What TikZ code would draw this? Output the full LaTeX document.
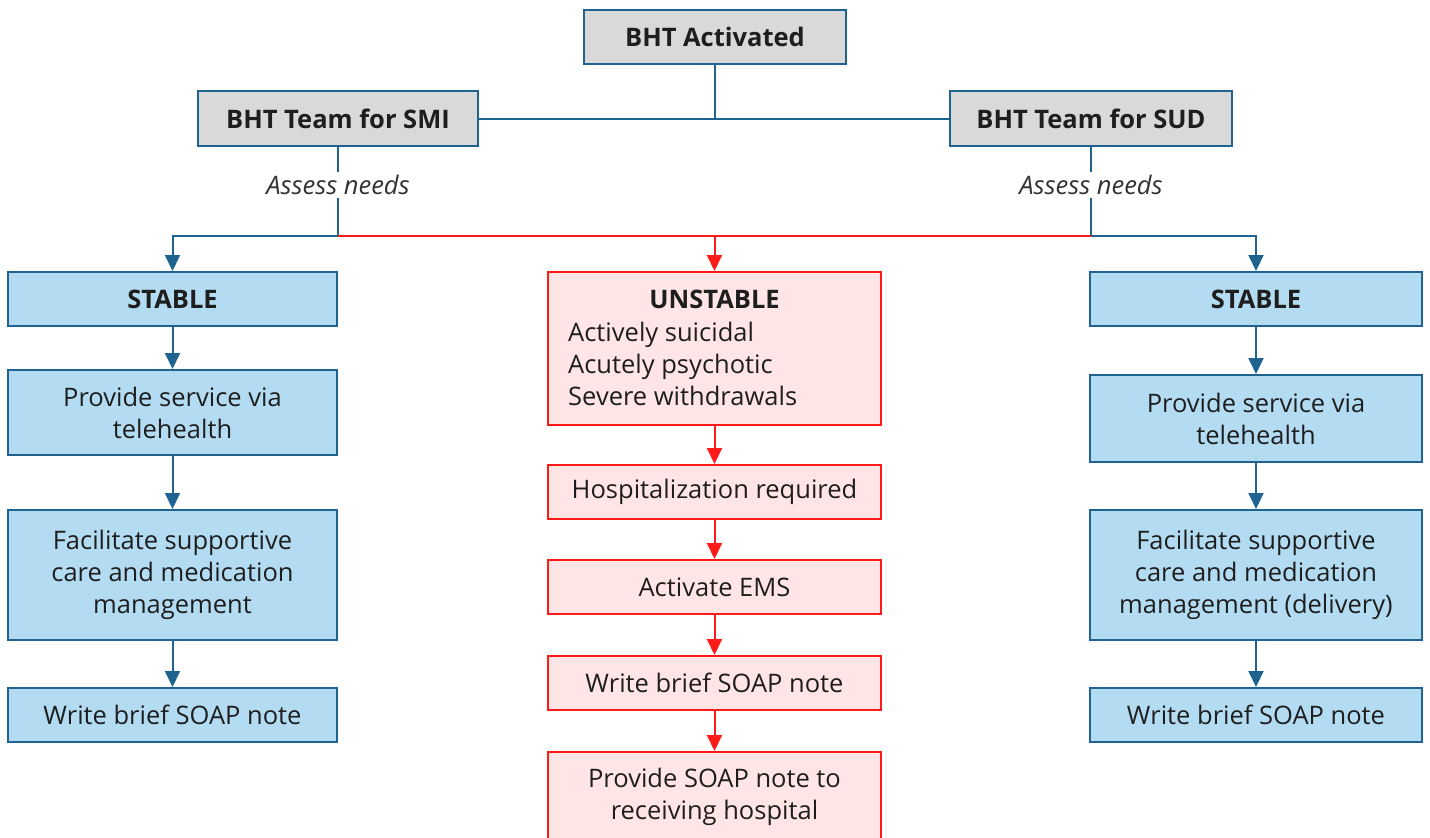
\documentclass[tikz,border=0pt]{standalone}
\usepackage{fontspec}
\setmainfont{Open Sans}
\usepackage{xcolor}
\usetikzlibrary{arrows.meta}

\definecolor{bhtblue}{HTML}{1F6391}
\definecolor{stablefill}{HTML}{B3DCF2}
\definecolor{teamfill}{HTML}{D9D9D9}
\definecolor{unsfill}{HTML}{FFE5E6}
\definecolor{unsred}{HTML}{FF1A1A}
\definecolor{txt}{HTML}{1E1E1E}

\newcommand\bhtfont{\fontsize{25.5}{32}\selectfont}

\tikzset{
	box/.style={draw, line width=2pt, text=txt, align=center, inner sep=0pt},
	teambox/.style={box, draw=bhtblue, fill=teamfill, font=\bhtfont\bfseries, minimum height=55pt},
	stablebox/.style={box, draw=bhtblue, fill=stablefill, minimum width=329pt},
	redbox/.style={box, draw=unsred, fill=unsfill, minimum width=333pt},
	blueline/.style={draw=bhtblue, line width=2pt},
	redline/.style={draw=unsred, line width=2pt},
	bluearrow/.style={blueline, -{Triangle[width=15pt,length=16pt]}},
	redarrow/.style={redline, -{Triangle[width=15pt,length=16pt]}},
	assess/.style={fill=white, inner sep=3pt, text=black!80, font=\bhtfont\itshape}
}

\begin{document}
\begin{tikzpicture}[x=1pt,y=-1pt,font=\bhtfont]
			\useasboundingbox (0,0) rectangle (1430,838);
			\clip (0,0) rectangle (1430,838);
			% top
			\node[teambox, minimum width=262pt, minimum height=54pt] (act) at (715,37) {BHT Activated};
			\node[teambox, minimum width=280pt] (smi) at (338,118.5) {BHT Team for SMI};
			\node[teambox, minimum width=282pt] (sud) at (1091,118.5) {BHT Team for SUD};
			\coordinate (top) at (715,118.5);
			\draw[blueline] (smi.east) -- (sud.west);
			\draw[blueline] (act.south) -- (top);
			% assess needs
			\node[assess] (asmi) at (338,185) {Assess needs};
			\node[assess] (asud) at (1091,185) {Assess needs};
			\coordinate (jsmi) at (338,236);
			\coordinate (jsud) at (1091,236);
			\coordinate (jmid) at (714.5,236);
			\draw[blueline] (smi.south) -- (asmi.north);
			\draw[blueline] (sud.south) -- (asud.north);
			\draw[blueline] (asmi.south) -- (jsmi);
			\draw[blueline] (asud.south) -- (jsud);
			% left column
			\node[stablebox, minimum height=54pt, font=\bhtfont\bfseries] (stl) at (172.5,299) {STABLE};
			\node[stablebox, minimum height=85pt] (tell) at (172.5,412.5) {Provide service via\\telehealth};
			\node[stablebox, minimum height=130pt] (facl) at (172.5,575) {Facilitate supportive\\care and medication\\management};
			\node[stablebox, minimum height=54pt] (soapl) at (172.5,715) {Write brief SOAP note};
			% middle column
			\node[redbox, minimum height=153pt] (uns) at (714.5,348.5) {};
			\node[text=txt, font=\bhtfont\bfseries, inner sep=0pt] (unstitle) at (714.5,299) {UNSTABLE};
			\node[text=txt, align=left, anchor=west, inner sep=0pt] (unslist) at (568,364) {Actively suicidal\\Acutely psychotic\\Severe withdrawals};
			\node[redbox, minimum height=54pt] (hosp) at (714.5,492) {Hospitalization required};
			\node[redbox, minimum height=54pt] (ems) at (714.5,587) {Activate EMS};
			\node[redbox, minimum height=54pt] (soapm) at (714.5,683) {Write brief SOAP note};
			\node[redbox, minimum height=90pt] (recv) at (714.5,797) {Provide SOAP note to\\receiving hospital};
			% right column
			\node[stablebox, minimum width=332pt, minimum height=54pt, font=\bhtfont\bfseries] (str) at (1256,299) {STABLE};
			\node[stablebox, minimum width=332pt, minimum height=87pt] (telr) at (1256,418.5) {Provide service via\\telehealth};
			\node[stablebox, minimum width=332pt, minimum height=130pt] (facr) at (1256,575) {Facilitate supportive\\care and medication\\management (delivery)};
			\node[stablebox, minimum width=332pt, minimum height=54pt] (soapr) at (1256,715) {Write brief SOAP note};
			% branches
			\draw[redline] (jsmi) -- (jsud);
			\draw[bluearrow] (jsmi) -| (stl.north);
			\draw[bluearrow] (jsud) -| (str.north);
			\draw[redarrow] (jmid) -- (uns.north);
			% arrows
			\draw[bluearrow] (stl) -- (tell);
			\draw[bluearrow] (tell) -- (facl);
			\draw[bluearrow] (facl) -- (soapl);
			\draw[bluearrow] (str) -- (telr);
			\draw[bluearrow] (telr) -- (facr);
			\draw[bluearrow] (facr) -- (soapr);
			\draw[redarrow] (uns) -- (hosp);
			\draw[redarrow] (hosp) -- (ems);
			\draw[redarrow] (ems) -- (soapm);
			\draw[redarrow] (soapm) -- (recv);
\end{tikzpicture}
\end{document}
